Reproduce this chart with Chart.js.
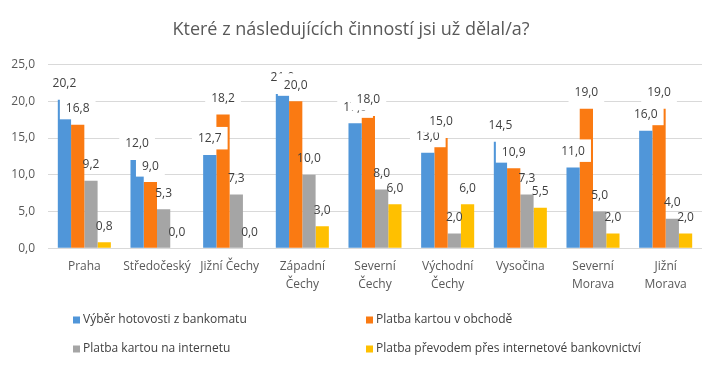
<!DOCTYPE html>
<html>
<head>
<meta charset="utf-8">
<script src="https://cdn.jsdelivr.net/npm/chart.js@4/dist/chart.umd.min.js"></script>
<style>
  html, body { margin: 0; padding: 0; background: #ffffff; }
  #wrap { width: 721px; height: 373px; position: relative; }
</style>
</head>
<body>
<div id="wrap"><canvas id="c" width="721" height="373"></canvas></div>
<script>
const titleText = 'Které z následujících činností jsi už dělal/a?';
const categories = [
  'Praha', 'Středočeský', 'Jižní Čechy', ['Západní', 'Čechy'], ['Severní', 'Čechy'],
  ['Východní', 'Čechy'], 'Vysočina', ['Severní', 'Morava'], ['Jižní', 'Morava']
];
const seriesNames = [
  'Výběr hotovosti z bankomatu',
  'Platba kartou v obchodě',
  'Platba kartou na internetu',
  'Platba převodem přes internetové bankovnictví'
];
const vyberHotovosti   = [20.2, 12.0, 12.7, 21.0, 17.0, 13.0, 14.5, 11.0, 16.0];
const platbaObchod     = [16.8,  9.0, 18.2, 20.0, 18.0, 15.0, 10.9, 19.0, 19.0];
const platbaInternet   = [ 9.2,  5.3,  7.3, 10.0,  8.0,  2.0,  7.3,  5.0,  4.0];
const platbaPrevodem   = [ 0.8,  0.0,  0.0,  3.0,  6.0,  6.0,  5.5,  2.0,  2.0];
const yTicks = [0, 5, 10, 15, 20, 25];

const colors = ['#5096D9', '#FA7A12', '#A5A5A5', '#FFC000'];
const FONT = "'Open Sans', 'DejaVu Sans', sans-serif";
const fmt = v => Number(v).toFixed(1).replace('.', ',');

const seriesData = [vyberHotovosti, platbaObchod, platbaInternet, platbaPrevodem];

// Data labels: white boxes for the first two series
const labelPlugin = {
  id: 'barLabels',
  afterDatasetsDraw(chart) {
    const ctx = chart.ctx;
    ctx.save();
    ctx.font = '12px ' + FONT;
    ctx.textAlign = 'center';
    ctx.textBaseline = 'middle';
    chart.data.datasets.forEach((ds, di) => {
      const meta = chart.getDatasetMeta(di);
      meta.data.forEach((bar, i) => {
        const txt = fmt(ds.data[i]);
        const cx = bar.x;
        const cy = bar.y - 16;
        if (di < 2) {
          const w = ctx.measureText(txt).width + 12;
          ctx.fillStyle = '#ffffff';
          ctx.fillRect(cx - w / 2, cy - 12, w, 22.5);
        }
        ctx.fillStyle = '#404040';
        ctx.fillText(txt, cx, cy);
      });
    });
    ctx.restore();
  }
};

// Two-column legend below the axis
const legendPlugin = {
  id: 'gridLegend',
  afterDraw(chart) {
    const ctx = chart.ctx;
    ctx.save();
    ctx.font = '12px ' + FONT;
    ctx.textBaseline = 'middle';
    ctx.textAlign = 'left';
    const colX = [73, 366];
    const rowY = [320, 349];
    chart.data.datasets.forEach((ds, di) => {
      const x = colX[di % 2];
      const y = rowY[Math.floor(di / 2)];
      ctx.fillStyle = ds.backgroundColor;
      ctx.fillRect(x, y - 3.5, 7, 7);
      ctx.fillStyle = '#404040';
      ctx.fillText(ds.label, x + 10, y);
    });
    ctx.restore();
  }
};

new Chart(document.getElementById('c'), {
  type: 'bar',
  data: {
    labels: categories,
    datasets: seriesNames.map((name, i) => ({
      label: name,
      data: seriesData[i],
      backgroundColor: colors[i],
      borderWidth: 0,
      categoryPercentage: 0.73,
      barPercentage: 1.0
    }))
  },
  options: {
    responsive: false,
    animation: false,
    devicePixelRatio: 1,
    layout: { padding: { left: 0, right: 19, top: 0, bottom: 80 } },
    plugins: {
      legend: { display: false },
      tooltip: { enabled: false },
      title: {
        display: true,
        text: titleText,
        color: '#595959',
        font: { family: FONT, size: 18, weight: 'normal', lineHeight: 1.2 },
        padding: { top: 19, bottom: 24 }
      }
    },
    scales: {
      x: {
        grid: { display: false, drawTicks: false },
        border: { display: false },
        ticks: {
          color: '#595959',
          font: { family: FONT, size: 12, lineHeight: 1.45 },
          maxRotation: 0, minRotation: 0, autoSkip: false,
          padding: 10
        },
        afterFit(axis) { axis.height = 44.8; }
      },
      y: {
        min: 0, max: 25,
        afterBuildTicks(axis) { axis.ticks = yTicks.map(v => ({ value: v })); },
        grid: { color: '#D9D9D9', drawTicks: false, lineWidth: 1 },
        border: { display: false },
        ticks: {
          color: '#595959',
          font: { family: FONT, size: 12 },
          padding: 13,
          callback: v => fmt(v)
        },
        afterFit(axis) { axis.width = 48; }
      }
    }
  },
  plugins: [labelPlugin, legendPlugin]
});
</script>
</body>
</html>
